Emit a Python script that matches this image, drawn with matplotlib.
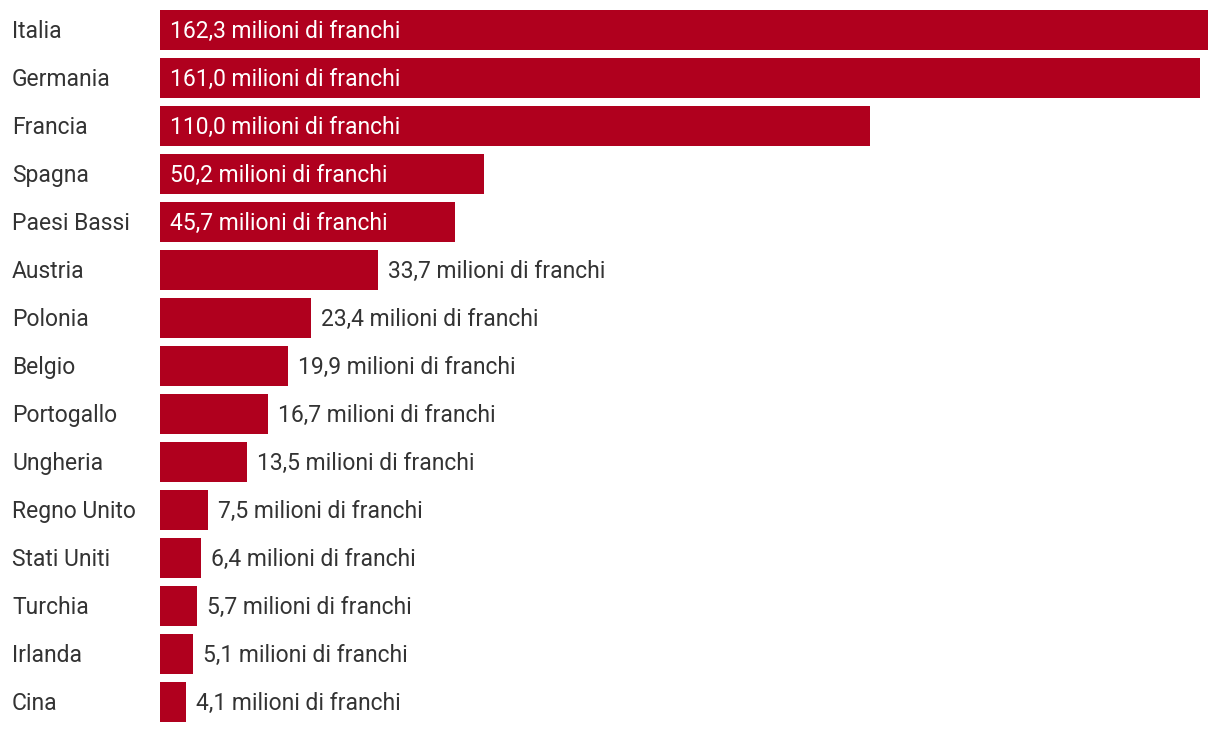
import matplotlib
matplotlib.use("Agg")
import matplotlib.pyplot as plt
from matplotlib.transforms import blended_transform_factory, offset_copy

countries = ["Italia", "Germania", "Francia", "Spagna", "Paesi Bassi", "Austria",
             "Polonia", "Belgio", "Portogallo", "Ungheria", "Regno Unito",
             "Stati Uniti", "Turchia", "Irlanda", "Cina"]
values = [162.3, 161.0, 110.0, 50.2, 45.7, 33.7, 23.4, 19.9, 16.7, 13.5,
          7.5, 6.4, 5.7, 5.1, 4.1]
inside = [True, True, True, True, True] + [False] * 10

plt.rcParams['font.family'] = ['Roboto', 'DejaVu Sans']

W, H = 1220, 732
fig = plt.figure(figsize=(W / 100, H / 100), dpi=100)
ax = fig.add_axes([160 / W, (H - 722) / H, (1208 - 160) / W, 712 / H])

bar_h = 40 / 48
color = "#B0001E"
ypos = list(range(len(countries)))
ax.barh(ypos, values, height=bar_h, color=color, edgecolor="none")
ax.set_xlim(0, values[0])
ax.set_ylim(len(countries) - 1 + bar_h / 2, -bar_h / 2)
ax.axis("off")

fs = 16.5

def px_to_data(dx):
    return dx * values[0] / (1208 - 160)

tr = offset_copy(blended_transform_factory(fig.transFigure, ax.transData),
                 fig=fig, x=0, y=-1.5, units="dots")
trd = offset_copy(ax.transData, fig=fig, x=0, y=-1.5, units="dots")
for y, name, v, ins in zip(ypos, countries, values, inside):
    ax.text(12 / W, y, name, transform=tr, ha="left", va="center",
            fontsize=fs, color="#333333")
    label = f"{v:.1f}".replace(".", ",") + " milioni di franchi"
    if ins:
        ax.text(px_to_data(10), y, label, transform=trd, ha="left", va="center",
                fontsize=fs, color="white")
    else:
        ax.text(v + px_to_data(10), y, label, transform=trd, ha="left",
                va="center", fontsize=fs, color="#333333")

fig.savefig("out.png", dpi=100)
